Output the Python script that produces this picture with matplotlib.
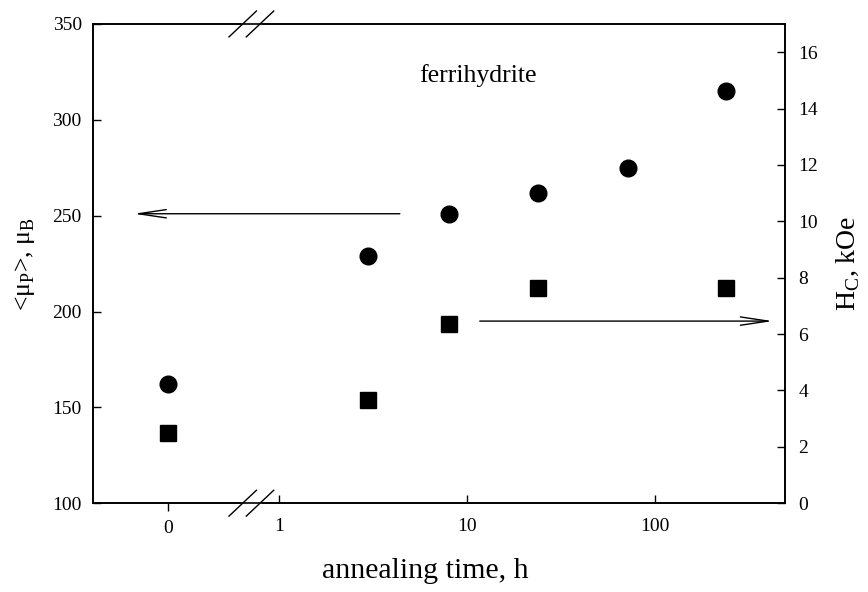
#Momento magnetico medio y campo coercitivo de ferrihidrita vs tiempo de recocido
import numpy as np
from matplotlib import pyplot as plt

plt.rcParams['font.family'] = ['Liberation Serif', 'DejaVu Serif']
plt.rcParams['mathtext.fontset'] = 'custom'
plt.rcParams['mathtext.rm'] = 'Liberation Serif'

# annealing times (h)
times_mu = [0, 3, 8, 24, 72, 240]
mu_p = [162, 229, 251, 262, 275, 315]          # <mu_P>, mu_B (left axis)

times_hc = [0, 3, 8, 24, 240]
hc = [2.5, 3.65, 6.35, 7.65, 7.65]             # H_C, kOe (right axis)

x_ticks = [0, 1, 10, 100]
x_tick_labels = ['0', '1', '10', '100']

# position of t=0 on the broken axis, in decades
ZERO_POS = -0.59


def to_axis(t):
    t = np.asarray(t, dtype=float)
    return np.where(t > 0, np.log10(np.where(t > 0, t, 1.0)), ZERO_POS)


fig = plt.figure(figsize=(8.68, 5.92), dpi=100)
ax = fig.add_axes([0.107, 0.150, 0.797, 0.8095])
ax2 = ax.twinx()

ax.plot(to_axis(times_mu), mu_p, 'o', color='black', markersize=12)
ax2.plot(to_axis(times_hc), hc, 's', color='black', markersize=11)

ax.set_xlim(-0.989, 2.691)
ax.set_ylim(100, 350)
ax2.set_ylim(0, 17)
ax.set_yticks(range(100, 351, 50))
ax2.set_yticks(range(0, 17, 2))

# log ticks (inside) and the separate "0" tick (outside)
ax.set_xticks(to_axis(x_ticks[1:]))
ax.set_xticklabels(x_tick_labels[1:])
ax.set_xticks(to_axis(x_ticks[:1]), minor=True)
ax.set_xticklabels(x_tick_labels[:1], minor=True)

ax.tick_params(axis='x', which='major', direction='in', length=6, width=1, pad=11, labelsize=14)
ax.tick_params(axis='x', which='minor', direction='out', length=6, width=1, pad=6, labelsize=14)
ax.tick_params(axis='y', direction='in', length=6, width=1, pad=8, labelsize=14)
ax2.tick_params(axis='y', direction='in', length=6, width=1, pad=10, labelsize=14)

for a in (ax, ax2):
    for s in a.spines.values():
        s.set_linewidth(1.2)

# axis break marks
trans = ax.get_xaxis_transform()
for y0 in (0, 1):
    ax.plot([-0.19, -0.10], [y0, y0], color='white', lw=3, transform=trans,
            clip_on=False, zorder=10)
    for xc in (-0.192, -0.100):
        ax.plot([xc - 0.073, xc + 0.073], [y0 - 0.027, y0 + 0.027], color='black',
                lw=1, transform=trans, clip_on=False, zorder=11)

# arrows pointing to the axis of each series
ax.annotate('', xy=(-0.771, 251), xytext=(0.644, 251),
            arrowprops=dict(arrowstyle='->,head_length=2.0,head_width=0.3',
                            lw=1, color='black', shrinkA=0, shrinkB=0))
ax2.annotate('', xy=(2.628, 6.46), xytext=(1.069, 6.46),
             arrowprops=dict(arrowstyle='->,head_length=2.0,head_width=0.3',
                             lw=1, color='black', shrinkA=0, shrinkB=0))

ax.text(0.556, 0.893, 'ferrihydrite', transform=ax.transAxes, fontsize=18.5,
        ha='center', va='center')

ax.set_xlabel('annealing time, h', fontsize=21.5)
ax.xaxis.set_label_coords(0.48, -0.115)
ax.set_ylabel(r'<μ$_\mathregular{P}$>, μ$_\mathregular{B}$', fontsize=18.5)
ax.yaxis.set_label_coords(-0.081, 0.5)
ax2.set_ylabel(r'H$_\mathregular{C}$, kOe', fontsize=20)
ax2.yaxis.set_label_coords(1.072, 0.5)

plt.savefig('out.png', dpi=100)
